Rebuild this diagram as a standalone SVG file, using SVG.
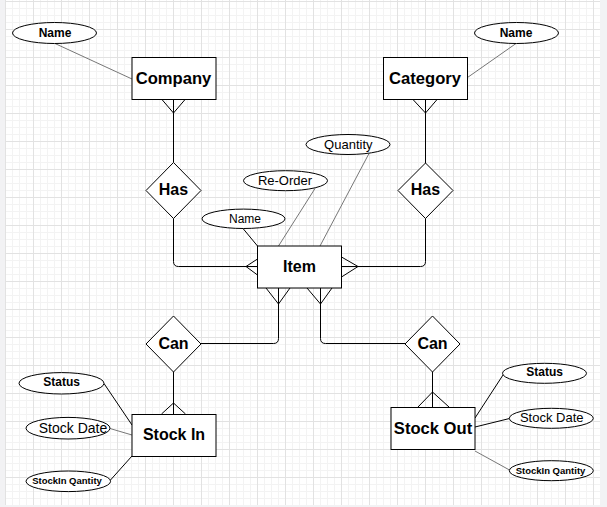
<svg xmlns="http://www.w3.org/2000/svg" width="607" height="507" viewBox="0 0 607 507">
  <style>
    .ent rect { fill: #ffffff; stroke: #000000; stroke-width: 1; }
    .rel polygon { fill: #ffffff; stroke: #000000; stroke-width: 1; }
    .attr ellipse { fill: #ffffff; stroke: #000000; stroke-width: 1; }
    .conn path { fill: none; stroke: #000000; stroke-width: 1; }
    .conn path.foot { stroke: #000000; }
    .conn path.gray { stroke: #777777; }
    text { font-family: "Liberation Sans", Arial, sans-serif; text-anchor: middle; fill: #000000; }
    .big { font-size: 16px; font-weight: bold; }
    .big2 { font-size: 16.6px; font-weight: bold; }
    .ab12 { font-size: 12px; font-weight: bold; }
    .ar12 { font-size: 12px; }
    .ar13 { font-size: 13px; }
    .ab9 { font-size: 9.5px; font-weight: bold; }
  </style>
  <defs>
    <pattern id="grid" x="5" y="1" width="28" height="28" patternUnits="userSpaceOnUse">
      <path d="M7.5,0 V28 M14.5,0 V28 M21.5,0 V28 M0,7.5 H28 M0,14.5 H28 M0,21.5 H28" stroke="#f3f3f3" stroke-width="1" fill="none"/>
      <path d="M0.5,0 V28 M0,0.5 H28" stroke="#e2e2e2" stroke-width="1" fill="none"/>
    </pattern>
  </defs>

  <rect x="0" y="0" width="607" height="507" fill="#f2f2f4"/>
  <rect x="5" y="0" width="595" height="505" fill="#ffffff"/>
  <rect x="5" y="0" width="595" height="505" fill="url(#grid)"/>

  <g id="connectors" class="conn">
    <!-- relationship lines -->
    <path d="M173.5,99 V162.5"/>
    <path class="foot" d="M161.5,99 L173.5,113 L185.5,99"/>
    <path d="M425.5,99 V163"/>
    <path class="foot" d="M412.5,99 L425.5,113 L437.5,99"/>
    <path d="M173.5,218.5 V261.5 Q173.5,266.5 178.5,266.5 H257.5"/>
    <path class="foot" d="M257.5,259 L246,266.5 L257.5,275"/>
    <path d="M341.5,266.5 H420.5 Q425.5,266.5 425.5,261.5 V218.5"/>
    <path class="foot" d="M341.5,257 L358,266.5 L341.5,277"/>
    <path d="M278.5,288 V338.5 Q278.5,343.5 273.5,343.5 H201"/>
    <path class="foot" d="M266,288 L278.5,304 L290,288"/>
    <path d="M320.5,288 V338.5 Q320.5,343.5 325.5,343.5 H405"/>
    <path class="foot" d="M307,288 L320.5,304 L332,288"/>
    <path d="M173.5,372 V414"/>
    <path class="foot" d="M161.5,414 L173.5,403 L185.5,414"/>
    <path d="M432.5,372 V407"/>
    <path class="foot" d="M418,407 L432.5,392 L449,407"/>
    <!-- attribute lines -->
    <path class="gray" d="M55,43.5 L132,79"/>
    <path class="gray" d="M516,43.5 L467.5,77.5"/>
    <path d="M243,228.5 L257.5,246"/>
    <path class="gray" d="M315,188.5 L278.5,246"/>
    <path class="gray" d="M369,153.5 L320,246"/>
    <path d="M104,383.5 L132,425"/>
    <path class="gray" d="M110,428.5 L132,435"/>
    <path d="M110.5,480 L132,456"/>
    <path d="M503,375 L475,418"/>
    <path d="M509.5,418.5 L475,427"/>
    <path class="gray" d="M509.5,470 L475,451"/>
  </g>

  <g id="company" class="ent">
    <rect x="132" y="57.5" width="84" height="42"/>
    <text class="big2" x="173.5" y="83.5">Company</text>
  </g>
  <g id="category" class="ent">
    <rect x="383.5" y="57.5" width="84" height="42"/>
    <text class="big2" x="425" y="83.5">Category</text>
  </g>
  <g id="item" class="ent">
    <rect x="257.5" y="246" width="84" height="42"/>
    <text class="big" x="299.5" y="272">Item</text>
  </g>
  <g id="stock-in" class="ent">
    <rect x="132" y="414.5" width="84" height="42"/>
    <text class="big" x="174" y="440">Stock In</text>
  </g>
  <g id="stock-out" class="ent">
    <rect x="391" y="407.5" width="84" height="42"/>
    <text class="big2" x="433" y="433.5">Stock Out</text>
  </g>

  <g id="has-left" class="rel">
    <polygon points="173.5,162.5 201,190.5 173.5,218.5 146,190.5"/>
    <text class="big" x="173.5" y="195">Has</text>
  </g>
  <g id="has-right" class="rel">
    <polygon points="425.5,163 453,190.5 425.5,218.5 398,190.5"/>
    <text class="big" x="425.5" y="195">Has</text>
  </g>
  <g id="can-left" class="rel">
    <polygon points="173.5,316 201,344 173.5,372 146,344"/>
    <text class="big" x="173.5" y="349">Can</text>
  </g>
  <g id="can-right" class="rel">
    <polygon points="432.5,316 460,344 432.5,372 405,344"/>
    <text class="big" x="432.5" y="349">Can</text>
  </g>

  <g id="company-name" class="attr">
    <ellipse cx="54.5" cy="33" rx="42" ry="10.5"/>
    <text class="ab12" x="55" y="36.5">Name</text>
  </g>
  <g id="category-name" class="attr">
    <ellipse cx="516.5" cy="33" rx="42" ry="10.5"/>
    <text class="ab12" x="516" y="36.5">Name</text>
  </g>
  <g id="item-name" class="attr">
    <ellipse cx="243.5" cy="218.8" rx="41.5" ry="9.7"/>
    <text class="ar12" x="245" y="222.5">Name</text>
  </g>
  <g id="item-reorder" class="attr">
    <ellipse cx="285.5" cy="180.7" rx="42" ry="10"/>
    <text class="ar13" x="285" y="184.8">Re-Order</text>
  </g>
  <g id="item-quantity" class="attr">
    <ellipse cx="348" cy="144.5" rx="42" ry="10"/>
    <text class="ar13" x="348.3" y="148.6">Quantity</text>
  </g>
  <g id="stockin-status" class="attr">
    <ellipse cx="61.5" cy="383.3" rx="42.5" ry="10.7"/>
    <text class="ab12" x="61.7" y="386.3">Status</text>
  </g>
  <g id="stockin-date" class="attr">
    <ellipse cx="68" cy="428.2" rx="42" ry="10.8"/>
    <text style="font-size:14px" x="73" y="433">Stock Date</text>
  </g>
  <g id="stockin-qty" class="attr">
    <ellipse cx="68.3" cy="481.3" rx="42.3" ry="10.3"/>
    <text class="ab9" x="67" y="484.3">StockIn Qantity</text>
  </g>
  <g id="stockout-status" class="attr">
    <ellipse cx="544.5" cy="373.3" rx="42" ry="10"/>
    <text class="ab12" x="544.7" y="376.3">Status</text>
  </g>
  <g id="stockout-date" class="attr">
    <ellipse cx="551.3" cy="418.3" rx="42" ry="10"/>
    <text class="ar13" x="551.7" y="422.3">Stock Date</text>
  </g>
  <g id="stockout-qty" class="attr">
    <ellipse cx="551.3" cy="470.7" rx="42" ry="10"/>
    <text class="ab9" x="550.5" y="474">StockIn Qantity</text>
  </g>
</svg>
